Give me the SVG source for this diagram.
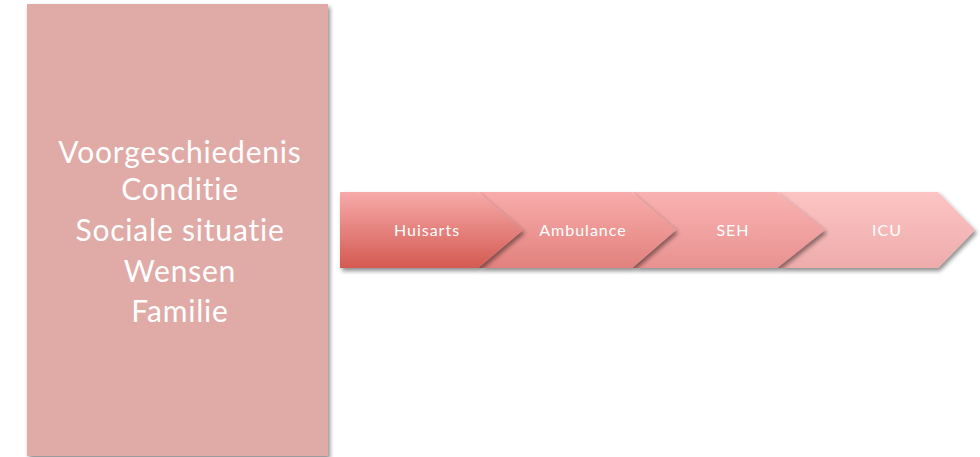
<svg xmlns="http://www.w3.org/2000/svg" width="980" height="457" viewBox="0 0 980 457">
<defs>
<filter id="sh" x="-10%" y="-10%" width="130%" height="140%">
<feGaussianBlur in="SourceAlpha" stdDeviation="2"/>
<feOffset dx="2" dy="3"/>
<feComponentTransfer><feFuncA type="linear" slope="0.45"/></feComponentTransfer>
<feMerge><feMergeNode/><feMergeNode in="SourceGraphic"/></feMerge>
</filter>
<linearGradient id="g1" x1="0" y1="0" x2="0" y2="1"><stop offset="0" stop-color="#f6aaa9"/><stop offset="1" stop-color="#d45a51"/></linearGradient>
<linearGradient id="g2" x1="0" y1="0" x2="0" y2="1"><stop offset="0" stop-color="#f8acab"/><stop offset="1" stop-color="#e2817d"/></linearGradient>
<linearGradient id="g3" x1="0" y1="0" x2="0" y2="1"><stop offset="0" stop-color="#f9b2b1"/><stop offset="1" stop-color="#e89291"/></linearGradient>
<linearGradient id="g4" x1="0" y1="0" x2="0" y2="1"><stop offset="0" stop-color="#fcc4c4"/><stop offset="1" stop-color="#eeacab"/></linearGradient>
</defs>
<style>
.big{font-family:Lato,"Open Sans","Liberation Sans",sans-serif;font-size:30px;letter-spacing:0.8px;fill:#ffffff;text-anchor:middle;font-variant-ligatures:none}
.sm{font-family:Lato,"Open Sans","Liberation Sans",sans-serif;font-size:16px;letter-spacing:1px;fill:#ffffff;text-anchor:middle;font-variant-ligatures:none}
</style>
<rect width="980" height="457" fill="#ffffff"/>
<g id="context">
<rect x="27" y="4" width="301" height="452" fill="#e0aaa7" filter="url(#sh)"/>
<text class="big" x="180" y="163">Voorgeschiedenis</text>
<text class="big" x="180" y="200">Conditie</text>
<text class="big" x="180" y="241">Sociale situatie</text>
<text class="big" x="180" y="282">Wensen</text>
<text class="big" x="180" y="322">Familie</text>
</g>
<g id="icu">
<polygon points="777,192 938,192 975,230 938,268 777,268 822,230" fill="url(#g4)" filter="url(#sh)"/>
<text class="sm" x="887" y="236">ICU</text>
</g>
<g id="seh">
<polygon points="632,192 777,192 825,230 777,268 632,268 676,230" fill="url(#g3)" filter="url(#sh)"/>
<text class="sm" x="733" y="236">SEH</text>
</g>
<g id="ambulance">
<polygon points="478,192 632,192 676,230 632,268 478,268 523,230" fill="url(#g2)" filter="url(#sh)"/>
<text class="sm" x="583" y="236">Ambulance</text>
</g>
<g id="huisarts">
<polygon points="340,192 478,192 523,230 478,268 340,268" fill="url(#g1)" filter="url(#sh)"/>
<text class="sm" x="427" y="236">Huisarts</text>
</g>
<g id="connectors"></g>
</svg>
